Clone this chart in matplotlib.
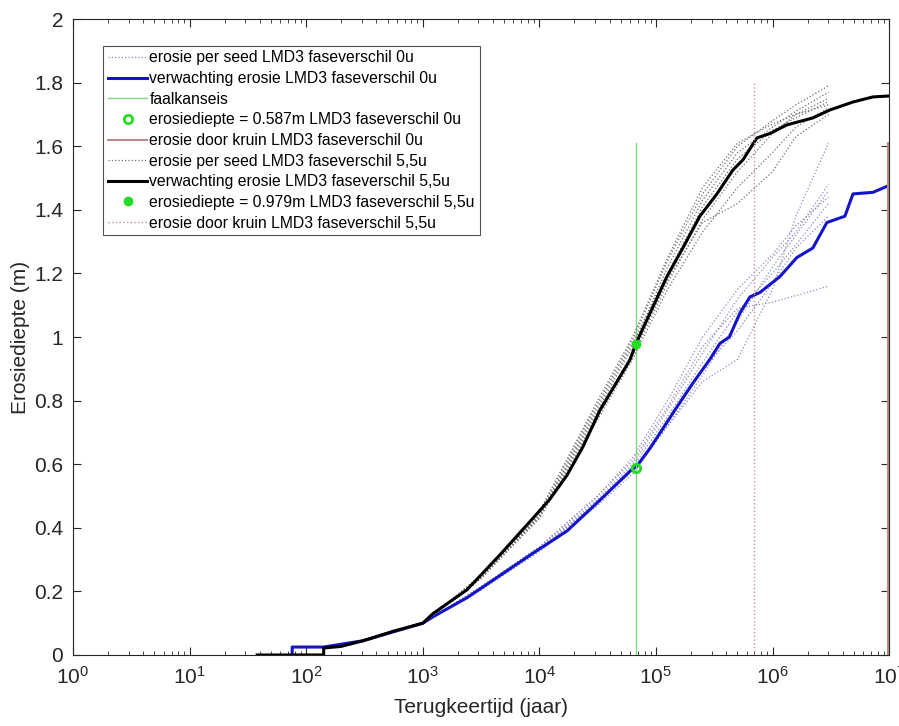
import numpy as np
import matplotlib
matplotlib.use("Agg")
import matplotlib.pyplot as plt
from matplotlib.ticker import LogLocator, NullFormatter

plt.rcParams["font.family"] = ["Liberation Sans", "DejaVu Sans"]

# verwachte erosie (log10 terugkeertijd, erosiediepte m)
log_t_0u = [1.88, 1.88, 2.15, 2.49, 3.0, 3.087, 3.379, 3.662, 3.945, 4.237, 4.52,
            4.803, 4.828, 4.949, 5.18, 5.317, 5.463, 5.549, 5.63, 5.72, 5.806,
            5.892, 6.063, 6.209, 6.346, 6.466, 6.621, 6.69, 6.861, 6.99]
ero_0u = [0.0, 0.025, 0.025, 0.045, 0.1, 0.12, 0.18, 0.25, 0.32, 0.39, 0.487,
          0.587, 0.59, 0.65, 0.78, 0.855, 0.93, 0.98, 1.0, 1.075, 1.126,
          1.14, 1.19, 1.25, 1.28, 1.36, 1.38, 1.45, 1.455, 1.475]

log_t_55u = [1.58, 2.15, 2.15, 2.3, 2.49, 2.75, 3.0, 3.087, 3.379, 3.662, 3.945,
             4.09, 4.237, 4.374, 4.52, 4.777, 4.828, 5.094, 5.231, 5.377, 5.523,
             5.66, 5.746, 5.866, 5.978, 6.123, 6.346, 6.492, 6.69, 6.861, 7.0]
ero_55u = [0.0, 0.0, 0.022, 0.027, 0.045, 0.075, 0.1, 0.13, 0.205, 0.315, 0.43,
           0.49, 0.565, 0.655, 0.77, 0.928, 0.979, 1.19, 1.28, 1.38, 1.45,
           1.525, 1.557, 1.626, 1.64, 1.667, 1.689, 1.714, 1.739, 1.755, 1.758]

# erosie per seed
log_t_seed = [3.0, 3.5, 4.0, 4.5, 4.8, 5.1, 5.4, 5.7, 6.0, 6.2, 6.48]
seeds_0u = [
    [0.10, 0.21, 0.33, 0.48, 0.58, 0.72, 0.86, 0.93, 1.15, 1.38, 1.61],
    [0.10, 0.215, 0.34, 0.50, 0.61, 0.78, 0.97, 1.09, 1.11, 1.13, 1.16],
    [0.10, 0.21, 0.335, 0.49, 0.60, 0.77, 0.95, 1.12, 1.25, 1.33, 1.48],
    [0.10, 0.205, 0.325, 0.47, 0.57, 0.72, 0.88, 1.05, 1.22, 1.32, 1.46],
    [0.10, 0.215, 0.34, 0.50, 0.62, 0.80, 1.00, 1.15, 1.26, 1.35, 1.44],
    [0.10, 0.21, 0.33, 0.485, 0.59, 0.75, 0.92, 1.08, 1.20, 1.29, 1.42],
    [0.10, 0.205, 0.33, 0.48, 0.58, 0.73, 0.90, 1.02, 1.17, 1.28, 1.38],
]
seeds_55u = [
    [0.10, 0.25, 0.45, 0.79, 0.99, 1.24, 1.45, 1.60, 1.68, 1.73, 1.79],
    [0.10, 0.24, 0.44, 0.77, 0.97, 1.22, 1.43, 1.58, 1.66, 1.71, 1.77],
    [0.10, 0.245, 0.43, 0.75, 0.94, 1.17, 1.37, 1.52, 1.64, 1.70, 1.75],
    [0.10, 0.25, 0.44, 0.78, 0.98, 1.20, 1.41, 1.56, 1.65, 1.69, 1.74],
    [0.10, 0.24, 0.43, 0.74, 0.93, 1.15, 1.33, 1.47, 1.58, 1.66, 1.72],
    [0.10, 0.245, 0.435, 0.76, 0.95, 1.18, 1.36, 1.42, 1.52, 1.63, 1.70],
    [0.10, 0.25, 0.45, 0.80, 1.00, 1.25, 1.47, 1.61, 1.67, 1.70, 1.73],
]

faalkanseis_t = 6.7e4
faalkanseis_top = 1.61
ero_punt_0u = 0.587
ero_punt_55u = 0.979
kruin_t_0u = 9.7e6
kruin_top_0u = 1.61
kruin_t_55u = 7.0e5
kruin_top_55u = 1.80

fig = plt.figure(figsize=(8.99, 7.26), dpi=100)
ax = fig.add_axes([0.0812, 0.0978, 0.9078, 0.876])

t_seed = 10 ** np.array(log_t_seed)
for i, s in enumerate(seeds_0u):
    ax.plot(t_seed, s, ":", color="#8c8cc0", lw=0.9,
            label="erosie per seed LMD3 faseverschil 0u" if i == 0 else None)
ax.plot(10 ** np.array(log_t_0u), ero_0u, color="#1414c8", lw=2.2,
        label="verwachting erosie LMD3 faseverschil 0u")
ax.plot([faalkanseis_t, faalkanseis_t], [0, faalkanseis_top], color="#80d880", lw=1.0,
        label="faalkanseis")
ax.plot([faalkanseis_t], [ero_punt_0u], "o", color="#22dd22", mfc="none", mew=2, ms=6,
        label="erosiediepte = 0.587m LMD3 faseverschil 0u", zorder=5)
ax.plot([kruin_t_0u, kruin_t_0u], [0, kruin_top_0u], color="#c08a8a", lw=1.5,
        label="erosie door kruin LMD3 faseverschil 0u")
for i, s in enumerate(seeds_55u):
    ax.plot(t_seed, s, ":", color="#707070", lw=0.9,
            label="erosie per seed LMD3 faseverschil 5,5u" if i == 0 else None)
ax.plot(10 ** np.array(log_t_55u), ero_55u, color="black", lw=2.2,
        label="verwachting erosie LMD3 faseverschil 5,5u")
ax.plot([faalkanseis_t], [ero_punt_55u], "o", color="#22dd22", ms=6,
        label="erosiediepte = 0.979m LMD3 faseverschil 5,5u", zorder=5)
ax.plot([kruin_t_55u, kruin_t_55u], [0, kruin_top_55u], ":", color="#d09090", lw=1.0,
        label="erosie door kruin LMD3 faseverschil 5,5u")

ax.set_xscale("log")
ax.set_xlim(1, 1e7)
ax.set_ylim(0, 2)
ax.set_yticks(np.arange(0, 2.01, 0.2))
ax.set_yticklabels(["0", "0.2", "0.4", "0.6", "0.8", "1", "1.2", "1.4", "1.6", "1.8", "2"])
ax.xaxis.set_minor_locator(LogLocator(base=10, subs=np.arange(2, 10), numticks=20))
ax.xaxis.set_minor_formatter(NullFormatter())
ax.tick_params(which="both", direction="in", top=True, right=True,
               colors="#262626", labelsize=15)
ax.tick_params(which="major", length=6, width=0.8)
ax.tick_params(which="minor", length=3, width=0.6)
ax.tick_params(axis="y", pad=7)
ax.tick_params(axis="x", pad=8)
for sp in ax.spines.values():
    sp.set_color("#262626")
    sp.set_linewidth(0.8)

ax.set_xlabel("Terugkeertijd (jaar)", fontsize=15, color="#262626", labelpad=7)
ax.set_ylabel("Erosiediepte (m)", fontsize=15, color="#262626", labelpad=3)

leg = ax.legend(loc="upper left", bbox_to_anchor=(0.037, 0.958), borderaxespad=0,
                fontsize=11.3, frameon=True, fancybox=False, edgecolor="#262626",
                labelspacing=0.36, borderpad=0.3, handlelength=2.5, handletextpad=0.15,
                numpoints=1)
leg.get_frame().set_linewidth(0.8)

fig.savefig("out.png", dpi=100)
